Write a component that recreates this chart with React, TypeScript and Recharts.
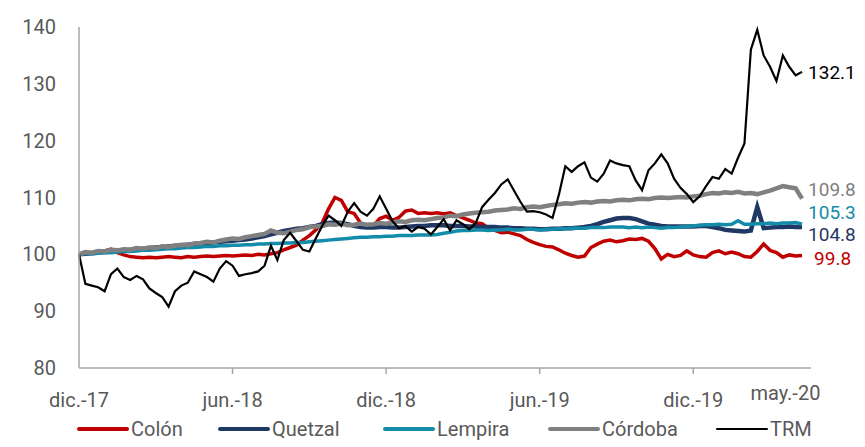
import { Legend, Line, LineChart, XAxis, YAxis } from "recharts";

// Monedas centroamericanas vs TRM, índice dic.-17 = 100 (datos cada ~1/4 de mes)

const MONTH_STEP = 0.25;

const colon = [
  100, 100.1, 100.3, 100.4, 100.6, 100.9, 100.3, 99.9, 99.6, 99.5,
  99.4, 99.5, 99.4, 99.5, 99.6, 99.5, 99.4, 99.6, 99.5, 99.6,
  99.7, 99.6, 99.7, 99.8, 99.7, 99.8, 99.9, 99.8, 100, 99.9,
  100.1, 100.3, 100.8, 101.2, 101.6, 102.5, 103.3, 104.3, 105.5, 108,
  110, 109.5, 107.5, 107.2, 105.5, 104.8, 105, 106.3, 106.7, 106,
  106.5, 107.6, 107.8, 107.2, 107.3, 107.2, 107.3, 107.1, 107.3, 106.8,
  106.4, 106, 105.5, 105.4, 104.6, 104.2, 103.8, 103.9, 103.6, 103.3,
  102.6, 102.1, 101.7, 101.4, 101.3, 100.8, 100.2, 99.8, 99.5, 99.7,
  101.2, 101.8, 102.3, 102.5, 102.2, 102.4, 102.7, 102.6, 102.8, 102.3,
  101, 99.2, 100, 99.6, 99.8, 100.6, 99.9, 99.6, 99.5, 100.3,
  100.6, 100.1, 100.4, 100.1, 99.6, 99.5, 100.5, 101.8, 100.7, 100.3,
  99.5, 99.9, 99.7, 99.8,
];

const quetzal = [
  100, 100.1, 100.2, 100.3, 100.4, 100.5, 100.6, 100.7, 100.8, 100.9, 101.0, 101.1, 101.2, 101.3, 101.4,
  101.5, 101.6, 101.7, 101.8, 101.9, 102.0, 102.1, 102.2, 102.3, 102.4, 102.5, 102.6, 102.8, 103.0,
  103.2, 103.5, 103.8, 104.1, 104.3, 104.5, 104.6, 104.8, 105.0, 105.3, 105.5, 105.6, 105.5, 105.3,
  105.0, 104.8, 104.7, 104.7, 104.8, 104.8, 104.7, 104.7, 104.8, 104.9, 105.0, 105.0, 105.1, 105.1,
  105.1, 105.0, 105.0, 105.0, 104.9, 104.9, 104.8, 104.8, 104.8, 104.7, 104.7, 104.6, 104.6, 104.5,
  104.5, 104.4, 104.4, 104.5, 104.5, 104.6, 104.6, 104.7, 104.8, 105.0, 105.3, 105.7, 106.0, 106.3,
  106.4, 106.4, 106.2, 105.8, 105.4, 105.2, 105.0, 104.9, 104.9, 104.9, 104.9, 104.9, 105.0, 105.0,
  104.8, 104.6, 104.3, 104.2, 104.1, 104.0, 104.2, 108.3, 104.6, 104.7, 104.8, 104.8, 104.9, 104.8, 104.8,
];

const lempira = [
  100, 100.1, 100.1, 100.2, 100.3, 100.3, 100.4, 100.5, 100.5, 100.6, 100.7, 100.7, 100.8, 100.9, 101.0,
  101.0, 101.1, 101.2, 101.2, 101.3, 101.4, 101.4, 101.5, 101.5, 101.6, 101.6, 101.7, 101.7, 101.8,
  101.8, 101.9, 101.9, 102.0, 102.0, 102.1, 102.1, 102.2, 102.3, 102.4, 102.5, 102.6, 102.7, 102.8,
  102.9, 103.0, 103.0, 103.1, 103.1, 103.2, 103.2, 103.3, 103.3, 103.3, 103.4, 103.4, 103.4, 103.5,
  103.7, 103.9, 104.1, 104.2, 104.2, 104.3, 104.3, 104.2, 104.3, 104.3, 104.4, 104.3, 104.3, 104.4,
  104.4, 104.3, 104.4, 104.4, 104.5, 104.5, 104.6, 104.6, 104.6, 104.7, 104.7, 104.7, 104.8, 104.8,
  104.8, 104.7, 104.8, 104.7, 104.8, 104.7, 104.6, 104.7, 104.7, 104.8, 104.9, 105.0, 105.1, 105.2,
  105.2, 105.3, 105.2, 105.3, 105.9, 105.3, 105.3, 105.4, 105.4, 105.5, 105.4, 105.5, 105.5, 105.6, 105.3,
];

const cordoba = [
  100, 100.4, 100.3, 100.6, 100.5, 100.8, 100.7, 100.9, 100.8, 101.1, 101.0, 101.2, 101.1, 101.4, 101.3,
  101.5, 101.7, 101.6, 101.9, 102.0, 102.2, 102.1, 102.4, 102.6, 102.8, 102.7, 103.0, 103.2, 103.4,
  103.6, 104.2, 103.8, 103.7, 104.0, 104.3, 104.4, 104.8, 104.9, 105.0, 105.3, 105.2, 105.4, 105.1,
  105.2, 105.4, 105.2, 105.3, 105.5, 105.4, 105.6, 105.8, 105.7, 106.0, 106.1, 106.0, 106.2, 106.4,
  106.5, 106.8, 106.7, 107.0, 107.2, 107.3, 107.4, 107.5, 107.7, 107.8, 107.9, 108.1, 108.0, 108.3,
  108.4, 108.3, 108.5, 108.7, 108.8, 109.0, 108.9, 109.1, 109.2, 109.1, 109.3, 109.4, 109.3, 109.5,
  109.6, 109.5, 109.7, 109.8, 109.7, 109.9, 110.0, 109.9, 110.0, 110.1, 110.0, 110.2, 110.3, 110.6,
  110.8, 110.7, 110.9, 110.8, 111.0, 110.7, 110.8, 110.6, 110.9, 111.2, 111.6, 112.0, 111.8, 111.6, 109.8,
];

const trm = [
  100, 94.8, 94.5, 94.2, 93.5, 96.5, 97.5, 96, 95.5, 96.2,
  95.6, 94, 93.2, 92.5, 90.8, 93.5, 94.5, 95, 97, 96.5,
  96, 95.2, 97.5, 98.8, 98, 96.2, 96.5, 96.7, 97, 98,
  101.5, 99, 102.5, 103.8, 102.3, 100.8, 100.5, 102.8, 105, 106.8,
  106, 105, 107.5, 109, 107.5, 106.8, 108, 110.2, 108, 105.8,
  104.6, 105, 104, 104.8, 104.5, 103.5, 104.8, 106.2, 104.2, 106,
  105.3, 104.4, 105.5, 108.3, 109.6, 110.8, 112.3, 113.2, 111.2, 109.2,
  107.5, 107.6, 107.4, 107, 106.4, 110.5, 115.5, 114.5, 115.5, 116.2,
  113.5, 112.8, 114.2, 116.5, 116, 115.7, 115.5, 113, 111.3, 114.8,
  116, 117.6, 116, 113.3, 111.7, 110.6, 109.2, 110.2, 112, 113.6,
  113.3, 115, 114.2, 117, 119.5, 136, 139.5, 135, 133, 130.5,
  135, 133, 131.5, 132.1,
];

const xTickPos = [0, 6, 12, 18, 24, 27.6];
const xTickLabels = ["dic.-17", "jun.-18", "dic.-18", "jun.-19", "dic.-19", "may.-20"];
const yTicks = [80, 90, 100, 110, 120, 130, 140];

const FONT = "Roboto, sans-serif";
const FS = 20;
const TEXT = "#595959";

const series = [
  { key: "colon", name: "Colón", color: "#C00000", width: 3.5, dx: 12, dy: 3 },
  { key: "quetzal", name: "Quetzal", color: "#1F3864", width: 4.5, dx: 6, dy: 7 },
  { key: "lempira", name: "Lempira", color: "#138CAA", width: 3.5, dx: 6, dy: -12 },
  { key: "cordoba", name: "Córdoba", color: "#808080", width: 4.5, dx: 6, dy: -9 },
  { key: "trm", name: "TRM", color: "#000000", width: 2.2, dx: 6, dy: 0 },
];

const legendLeft = [77, 218, 383, 548, 716];

const data = trm.map((_, i) => ({
  m: i * MONTH_STEP,
  colon: colon[i],
  quetzal: quetzal[i],
  lempira: lempira[i],
  cordoba: cordoba[i],
  trm: trm[i],
}));

const lastIndex = data.length - 1;

function endLabel(color: string, dx: number, dy: number) {
  return (props: any) => {
    if (props.index !== lastIndex) return null;
    return (
      <text x={props.x + dx} y={props.y + dy} dy="0.36em" fill={color} fontSize={19} fontFamily={FONT}>
        {Number(props.value).toFixed(1)}
      </text>
    );
  };
}

function XTick(props: any) {
  const { x, y, payload } = props;
  const idx = xTickPos.indexOf(payload.value);
  const isLast = idx === xTickPos.length - 1;
  return (
    <g>
      {!isLast && idx > 0 && <line x1={x} x2={x} y1={y - 6} y2={y} stroke="#A6A6A6" strokeWidth={1.5} />}
      <text x={x} y={y} dy={isLast ? 26 : 33} textAnchor="middle" fill={TEXT} fontSize={FS} fontFamily={FONT}>
        {xTickLabels[idx]}
      </text>
    </g>
  );
}

function LegendBox() {
  return (
    <div style={{ position: "relative", width: 811, height: 34, fontFamily: FONT, fontSize: FS, color: TEXT }}>
      {series.map((s, i) => (
        <div
          key={s.key}
          style={{ position: "absolute", left: legendLeft[i], top: 4, display: "flex", alignItems: "center", whiteSpace: "nowrap" }}
        >
          <span style={{ display: "inline-block", width: 52, height: s.width, background: s.color, borderRadius: 3, marginRight: 2 }} />
          <span>{s.name}</span>
        </div>
      ))}
    </div>
  );
}

export default function App() {
  return (
    <div>
      <style>{"body{margin:0;}"}</style>
      <LineChart width={865} height={447} data={data} margin={{ top: 27, right: 54, left: 0, bottom: 0 }}>
        <XAxis
          dataKey="m"
          type="number"
          domain={[0, 28.6]}
          ticks={xTickPos}
          tick={<XTick />}
          tickLine={false}
          tickSize={6}
          tickMargin={0}
          height={45}
          stroke="#A6A6A6"
          strokeWidth={1.5}
          interval={0}
        />
        <YAxis
          type="number"
          domain={[80, 140]}
          ticks={yTicks}
          width={79}
          tickLine={false}
          tickSize={0}
          tickMargin={23}
          stroke="#A6A6A6"
          strokeWidth={1.5}
          tick={{ fill: TEXT, fontSize: FS, fontFamily: FONT }}
          interval={0}
        />
        <Legend verticalAlign="bottom" content={<LegendBox />} />
        {series.map((s) => (
          <Line
            key={s.key}
            dataKey={s.key}
            name={s.name}
            stroke={s.color}
            strokeWidth={s.width}
            dot={false}
            activeDot={false}
            type="linear"
            isAnimationActive={false}
            label={endLabel(s.color, s.dx, s.dy)}
          />
        ))}
      </LineChart>
    </div>
  );
}
